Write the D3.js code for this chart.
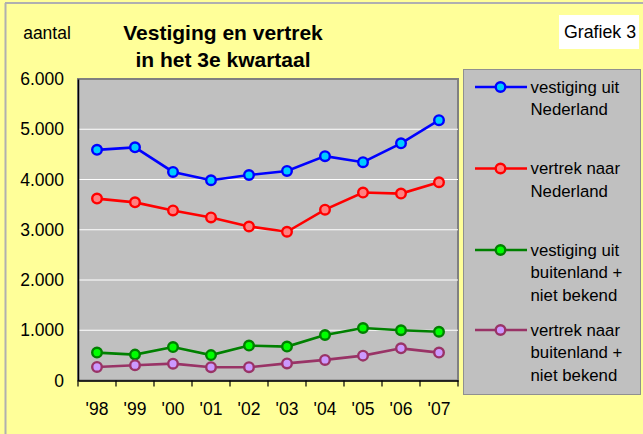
<!DOCTYPE html>
<html><head><meta charset="utf-8">
<script src="https://cdn.jsdelivr.net/npm/d3@7"></script>
<style>
html,body{margin:0;padding:0;background:#fff;}
text{font-family:"Liberation Sans",Arial,sans-serif;fill:#000;}
</style></head>
<body>
<svg id="c" width="643" height="434"></svg>
<script>
const years = ["'98","'99","'00","'01","'02","'03","'04","'05","'06","'07"];
const vestigingNL = [4590,4640,4150,3985,4090,4170,4465,4345,4720,5180];
const vertrekNL = [3620,3545,3385,3245,3065,2960,3400,3740,3720,3945];
const vestigingBL = [555,515,665,505,695,675,905,1045,1000,970];
const vertrekBL = [270,305,335,265,265,340,410,495,640,555];
const yTicks = [0,1000,2000,3000,4000,5000,6000];
const seriesNames = [["vestiging uit","Nederland"],["vertrek naar","Nederland"],["vestiging uit","buitenland +","niet bekend"],["vertrek naar","buitenland +","niet bekend"]];
const seriesData = [vestigingNL, vertrekNL, vestigingBL, vertrekBL];
const lineColors = ["#0000FF","#FF0000","#008000","#993366"];
const fillColors = ["#00CCFF","#FF8080","#00FF00","#CC99FF"];

const svg = d3.select("#c");
svg.append("rect").attr("x",0).attr("y",0).attr("width",643).attr("height",434).attr("fill","#FFFF99");
svg.append("line").attr("x1",5.5).attr("x2",5.5).attr("y1",3).attr("y2",434).attr("stroke","#B0B0B0").attr("stroke-width",2);
svg.append("line").attr("x1",5).attr("x2",643).attr("y1",3).attr("y2",3).attr("stroke","#B0B0B0").attr("stroke-width",2);

const L=78, R=458, T=79, B=380.5;
const x = d3.scaleBand().domain(years).range([L,R]).padding(0);
const y = d3.scaleLinear().domain([0,6000]).range([B,T]);

svg.append("rect").attr("x",L).attr("y",T).attr("width",R-L).attr("height",B-T).attr("fill","#C0C0C0").attr("stroke","#808080").attr("stroke-width",2);

svg.append("g").selectAll("line").data(yTicks.filter(d=>d>0 && d<6000)).join("line")
  .attr("x1",L).attr("x2",R).attr("y1",d=>y(d)).attr("y2",d=>y(d))
  .attr("stroke","#FFFFFF").attr("stroke-width",1.2);

const fmt = d => d===0 ? "0" : d3.format(",")(d).replace(/,/g,".");
const yAxis = svg.append("g").attr("transform",`translate(${L},0)`)
  .call(d3.axisLeft(y).tickValues(yTicks).tickSize(0).tickPadding(14).tickFormat(fmt));
yAxis.select(".domain").attr("stroke","#000").attr("stroke-width",1.5);
yAxis.selectAll("text").attr("font-size","17.5px").attr("font-family","Liberation Sans, Arial, sans-serif");

const xAxis = svg.append("g").attr("transform",`translate(0,${B})`)
  .call(d3.axisBottom(x).tickSize(0).tickPadding(22));
xAxis.select(".domain").attr("stroke","#000").attr("stroke-width",1.5);
xAxis.selectAll("text").attr("font-size","17.5px").attr("font-family","Liberation Sans, Arial, sans-serif");
const bounds = years.map(d=>x(d)).concat([R]);
svg.append("g").selectAll("line").data(bounds).join("line")
  .attr("x1",d=>d).attr("x2",d=>d).attr("y1",B).attr("y2",B+6)
  .attr("stroke","#000").attr("stroke-width",1.2);

const line = d3.line().x((d,i)=>x(years[i])+x.bandwidth()/2).y(d=>y(d));
seriesData.forEach((s,k)=>{
  svg.append("path").datum(s).attr("d",line).attr("fill","none").attr("stroke",lineColors[k]).attr("stroke-width",2.6);
  svg.append("g").selectAll("circle").data(s).join("circle")
    .attr("cx",(d,i)=>x(years[i])+x.bandwidth()/2).attr("cy",d=>y(d)).attr("r",4.8)
    .attr("fill",fillColors[k]).attr("stroke",lineColors[k]).attr("stroke-width",2.4);
});

svg.append("rect").attr("x",463.5).attr("y",69.5).attr("width",177).attr("height",325).attr("fill","#C0C0C0").attr("stroke","#909090").attr("stroke-width",1);
const legY = [87,168.5,250,330];
seriesNames.forEach((names,k)=>{
  const g = svg.append("g");
  g.append("line").attr("x1",475).attr("x2",527).attr("y1",legY[k]).attr("y2",legY[k]).attr("stroke",lineColors[k]).attr("stroke-width",2.6);
  g.append("circle").attr("cx",500.5).attr("cy",legY[k]).attr("r",4.8).attr("fill",fillColors[k]).attr("stroke",lineColors[k]).attr("stroke-width",2.4);
  names.forEach((n,j)=>{
    g.append("text").attr("x",530.5).attr("y",legY[k]+j*22.5).attr("dy","0.35em").attr("font-size","16.8px").text(n);
  });
});

svg.append("text").attr("x",223).attr("y",33).attr("dy","0.35em").attr("text-anchor","middle").attr("font-size","21px").attr("font-weight","bold").text("Vestiging en vertrek");
svg.append("text").attr("x",223).attr("y",60).attr("dy","0.35em").attr("text-anchor","middle").attr("font-size","21px").attr("font-weight","bold").text("in het 3e kwartaal");
svg.append("text").attr("x",47).attr("y",33).attr("dy","0.35em").attr("text-anchor","middle").attr("font-size","17.5px").text("aantal");

svg.append("rect").attr("x",559).attr("y",15).attr("width",80).attr("height",34).attr("fill","#FFFFFF");
svg.append("text").attr("x",600).attr("y",32).attr("dy","0.35em").attr("text-anchor","middle").attr("font-size","17.8px").text("Grafiek 3");
</script>
</body></html>
